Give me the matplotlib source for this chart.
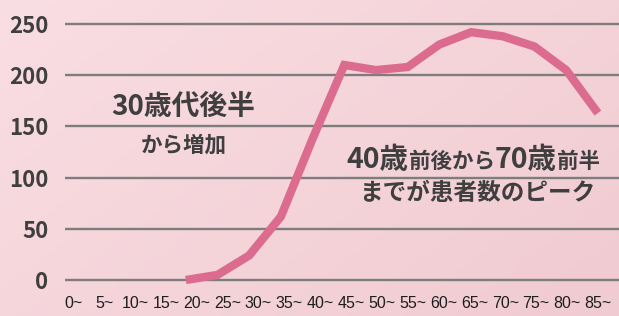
"""
age distribution of patients, line chart on a pink background
"""

import numpy as np
import matplotlib
matplotlib.use("Agg")
import matplotlib.pyplot as plt

plt.rcParams['font.family'] = ['Noto Sans CJK JP', 'DejaVu Sans']

ages = ["0~", "5~", "10~", "15~", "20~", "25~", "30~", "35~", "40~",
        "45~", "50~", "55~", "60~", "65~", "70~", "75~", "80~", "85~"]
patients = [np.nan, np.nan, np.nan, np.nan, 0, 5, 24, 62, 138,
            210, 205, 208, 230, 242, 238, 228, 205, 163]
yticks = [0, 50, 100, 150, 200, 250]

W, H = 619, 316
TXT = "#3f3f3f"


def draw_runs(fig, runs, xc, yb):
    """put text pieces of different sizes on one baseline, centred at xc (px)"""
    r = fig.canvas.get_renderer()
    texts = []
    for s, size in runs:
        t = fig.text(0, yb / H, s, fontsize=size, fontweight="bold",
                     color=TXT, va="baseline", ha="left")
        texts.append(t)
    widths = [t.get_window_extent(r).width for t in texts]
    x = xc - sum(widths) / 2
    for t, w in zip(texts, widths):
        t.set_x(x / W)
        x += w


def main():
    fig = plt.figure(figsize=(W / 100, H / 100), dpi=100)

    # gradient background
    bg = fig.add_axes([0, 0, 1, 1], zorder=-1)
    gx, gy = np.meshgrid(np.linspace(0, 1, 200), np.linspace(0, 1, 100))
    g = (gx * 0.6 + gy * 0.4)[..., None]
    c0 = np.array([249, 222, 227]) / 255
    c1 = np.array([240, 203, 209]) / 255
    bg.imshow(c0 + (c1 - c0) * g, aspect="auto", extent=[0, 1, 1, 0])
    bg.set_axis_off()

    # axes placed so that 0 -> y=280px, 250 -> y=24px
    ylo, yhi = -12, 262
    ppu = 256 / 250
    bot = 280 + (0 - ylo) * ppu
    top = 24 - (yhi - 250) * ppu
    ax = fig.add_axes([65 / W, (H - bot) / H, 1 - 65 / W, (bot - top) / H])
    ax.set_facecolor("none")

    x = np.arange(len(ages))
    ax.plot(x, patients, color="#dc6b90", lw=6, solid_capstyle="butt",
            solid_joinstyle="miter", zorder=3)

    ax.set_ylim(ylo, yhi)
    ax.set_xlim((65 - 59) / 31.7, (619 - 59) / 31.7)
    ax.set_yticks(yticks)
    ax.set_yticklabels([str(v) for v in yticks], fontsize=16,
                       fontweight="bold", color=TXT)
    ax.set_xticks(np.linspace(0.45, 17, len(ages)))
    ax.set_xticklabels(ages)
    ax.tick_params(axis="y", length=0, pad=12)
    ax.tick_params(axis="x", length=0, pad=3, labelsize=11.5,
                   labelcolor="#1e1e1e", labelfontfamily="Liberation Sans")
    ax.grid(axis="y", color="#7d7d7d", lw=1.7)
    ax.set_axisbelow(True)
    for s in ax.spines.values():
        s.set_visible(False)

    # annotations
    fig.text(183 / W, 1 - 107 / H, "30歳代後半", fontsize=20,
             fontweight="bold", color=TXT, ha="center", va="center")
    fig.text(184 / W, 1 - 145 / H, "から増加", fontsize=15.5,
             fontweight="bold", color=TXT, ha="center", va="center")
    draw_runs(fig, [("40歳", 20.5), ("前後から", 15.5), ("70歳", 20.5),
                    ("前半", 15.5)], 473, H - 168)
    fig.text(477 / W, 1 - 193 / H, "までが患者数のピーク", fontsize=17,
             fontweight="bold", color=TXT, ha="center", va="center")

    plt.savefig("out.png", dpi=100)


main()
